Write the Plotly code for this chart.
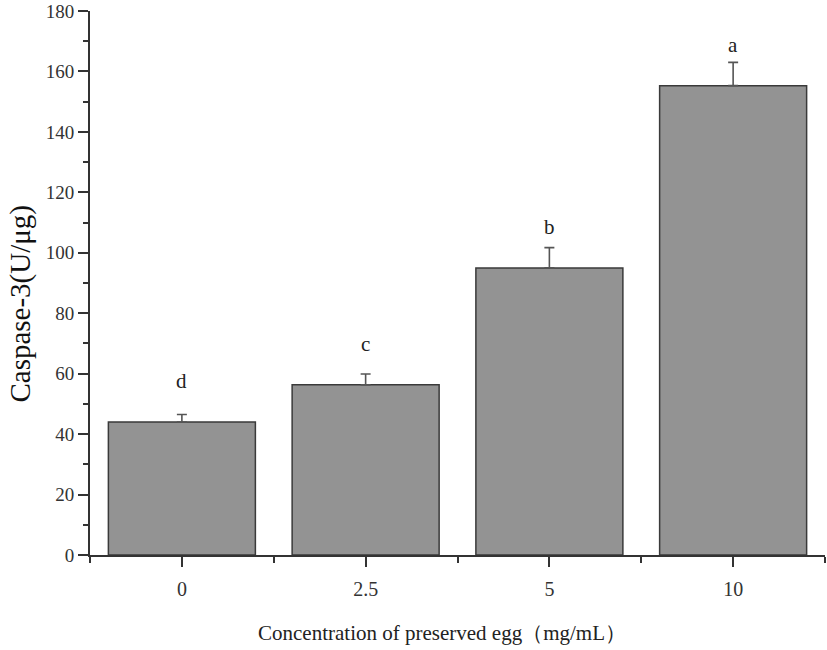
import plotly.graph_objects as go

categories = ["0", "2.5", "5", "10"]
caspase = [44.0, 56.3, 95.0, 155.3]
errors = [2.5, 3.6, 6.7, 7.7]
letters = ["d", "c", "b", "a"]
letter_shift = [24, 21, 12, 8]

xpos = list(range(len(categories)))
serif = "Liberation Serif, Times New Roman, serif"

fig = go.Figure()
fig.add_trace(go.Bar(
    x=xpos, y=caspase, width=0.8,
    marker=dict(color="#939393", line=dict(color="#3a3a3a", width=1.5)),
    error_y=dict(type="data", array=errors, symmetric=False, arrayminus=[0]*len(errors),
                 color="#555555", thickness=1.6, width=5),
    showlegend=False,
))

for xi, v, e, lab, s in zip(xpos, caspase, errors, letters, letter_shift):
    fig.add_annotation(x=xi, y=v + e, text=lab, showarrow=False, yanchor="bottom",
                       yshift=s - 5, font=dict(family=serif, size=21, color="#222222"))

# axis titles as annotations (placed as in the reference)
fig.add_annotation(xref="paper", yref="paper", x=0.479, y=-0.143, xanchor="center",
                   yanchor="middle", showarrow=False,
                   text="Concentration of preserved egg（mg/mL）",
                   font=dict(family=serif, size=21, color="#222222"))
fig.add_annotation(xref="paper", yref="paper", x=-0.094, y=0.462, xanchor="center",
                   yanchor="middle", showarrow=False, textangle=-90,
                   text="Caspase-3(U/μg)",
                   font=dict(family=serif, size=29, color="#111111"))

fig.update_layout(
    width=827, height=650,
    margin=dict(l=90, r=2, t=11, b=95),
    paper_bgcolor="white", plot_bgcolor="white",
    font=dict(family=serif, color="#333333"),
)
fig.update_xaxes(
    range=[-0.5, 3.5], tickmode="array", tickvals=xpos, ticktext=categories,
    showline=True, linecolor="#333333", linewidth=2, mirror=False,
    ticks="outside", ticklen=10, tickwidth=1.5, tickcolor="#333333",
    ticklabelstandoff=5,
    minor=dict(tickmode="linear", tick0=-0.5, dtick=1, ticks="outside", ticklen=6,
               tickwidth=1.5, tickcolor="#333333"),
    showgrid=False, zeroline=False,
    tickfont=dict(family=serif, size=20, color="#333333"),
)
fig.update_yaxes(
    range=[0, 180], tickmode="linear", tick0=0, dtick=20,
    showline=True, linecolor="#333333", linewidth=2,
    ticks="outside", ticklen=10, tickwidth=1.5, tickcolor="#333333",
    minor=dict(tickmode="linear", tick0=0, dtick=10, ticks="outside", ticklen=5,
               tickwidth=1.5, tickcolor="#333333", showgrid=False),
    showgrid=False, zeroline=False,
    tickfont=dict(family=serif, size=19, color="#333333"),
)

fig.write_html("out.html")
